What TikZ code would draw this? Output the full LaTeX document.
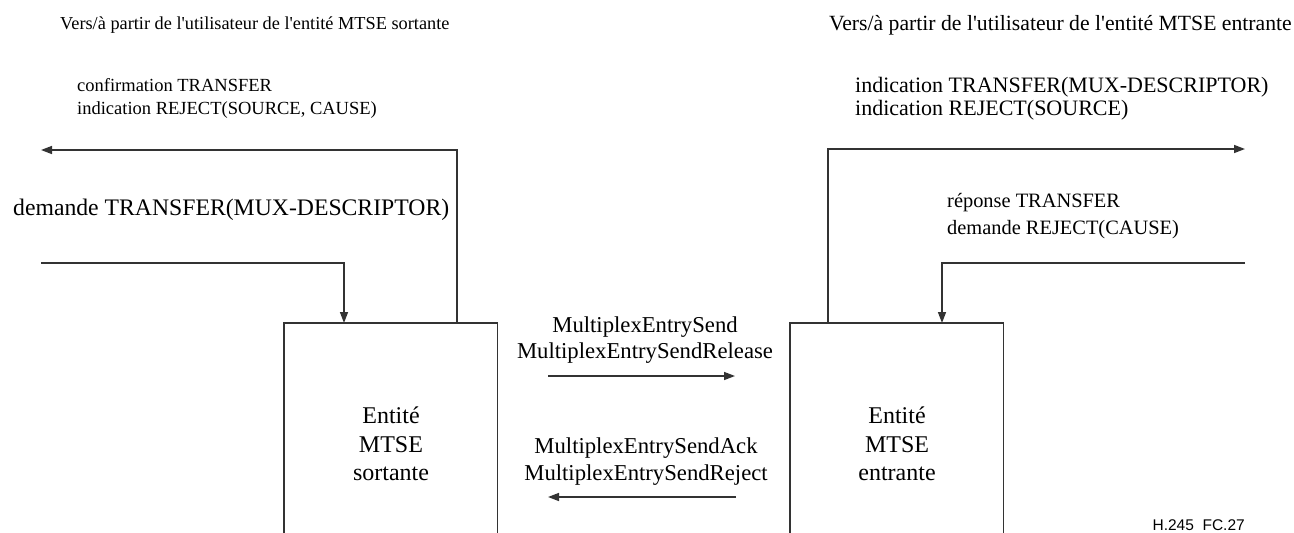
\documentclass[tikz,border=0pt]{standalone}
\usepackage{fontspec}
\setmainfont{Liberation Serif}
\newfontfamily\labelsans{Liberation Sans}
\usetikzlibrary{arrows.meta}
\begin{document}
\begin{tikzpicture}[x=1pt,y=-1pt,
  lbl/.style={inner sep=0pt, align=left},
  ctr/.style={inner sep=0pt, align=center},
  wire/.style={line width=1.5pt, draw=black!80},
  arr/.style={wire, -{Triangle[length=11pt,width=8pt]}},
  entity/.style={inner sep=0pt, minimum width=213pt, minimum height=210pt, anchor=north west},
]
\useasboundingbox (0,0) rectangle (1294,533);

% entity boxes (open at the bottom)
\node[entity] (lbox) at (284,323) {};
\node[entity] (rbox) at (790,323) {};
\draw[wire] (lbox.south west) -- (lbox.north west) -- (lbox.north east) -- (lbox.south east);
\draw[wire] (rbox.south west) -- (rbox.north west) -- (rbox.north east) -- (rbox.south east);
\node[ctr, font=\fontsize{24}{28.5}\selectfont] (ltxt) at (391,444) {Entité\\MTSE\\sortante};
\node[ctr, font=\fontsize{24}{28.5}\selectfont] (rtxt) at (897,444) {Entité\\MTSE\\entrante};

% titles
\node[lbl, anchor=west, font=\fontsize{18.3}{22}\selectfont] (ltitle) at (60,25) {Vers/à partir de l\textquotesingle utilisateur de l\textquotesingle entité MTSE sortante};
\node[lbl, anchor=east, font=\fontsize{21.7}{25}\selectfont] (rtitle) at (1292,25) {Vers/à partir de l\textquotesingle utilisateur de l\textquotesingle entité MTSE entrante};

% labels
\node[lbl, anchor=west, font=\fontsize{18.5}{23}\selectfont] (lout) at (77,98.5) {confirmation TRANSFER\\indication REJECT(SOURCE, CAUSE)};
\node[lbl, anchor=west, font=\fontsize{22}{23}\selectfont] (rout) at (855,98.5) {indication TRANSFER(MUX-DESCRIPTOR)\\indication REJECT(SOURCE)};
\node[lbl, anchor=west, font=\fontsize{23.7}{27}\selectfont] (lin) at (13,210) {demande TRANSFER(MUX-DESCRIPTOR)};
\node[lbl, anchor=west, font=\fontsize{20.4}{27}\selectfont] (rin) at (947,216.5) {réponse TRANSFER\\demande REJECT(CAUSE)};
\node[ctr, font=\fontsize{22.7}{26.5}\selectfont] (fwd) at (645,340) {MultiplexEntrySend\\MultiplexEntrySendRelease};
\node[ctr, font=\fontsize{22.7}{27}\selectfont] (bwd) at (646,461.5) {MultiplexEntrySendAck\\MultiplexEntrySendReject};
\node[font=\labelsans\fontsize{15.5}{18}\selectfont, inner sep=0pt, anchor=east] (ref) at (1245,525) {H.245\ \ FC.27};

% connector end points
\coordinate (lupS) at (457,323);
\coordinate (lupE) at (41,150);
\coordinate (linS) at (41,263);
\coordinate (linE) at (344,323);
\coordinate (rupS) at (828,323);
\coordinate (rupE) at (1245,149);
\coordinate (rinS) at (1245,263);
\coordinate (rinE) at (942,323);
\coordinate (fS) at (548,376);
\coordinate (fE) at (735,376);
\coordinate (bS) at (736,497);
\coordinate (bE) at (548,497);

\draw[arr] (lupS) |- (lupE);
\draw[arr] (linS) -| (linE);
\draw[arr] (rupS) |- (rupE);
\draw[arr] (rinS) -| (rinE);
\draw[arr] (fS) -- (fE);
\draw[arr] (bS) -- (bE);
\end{tikzpicture}
\end{document}
